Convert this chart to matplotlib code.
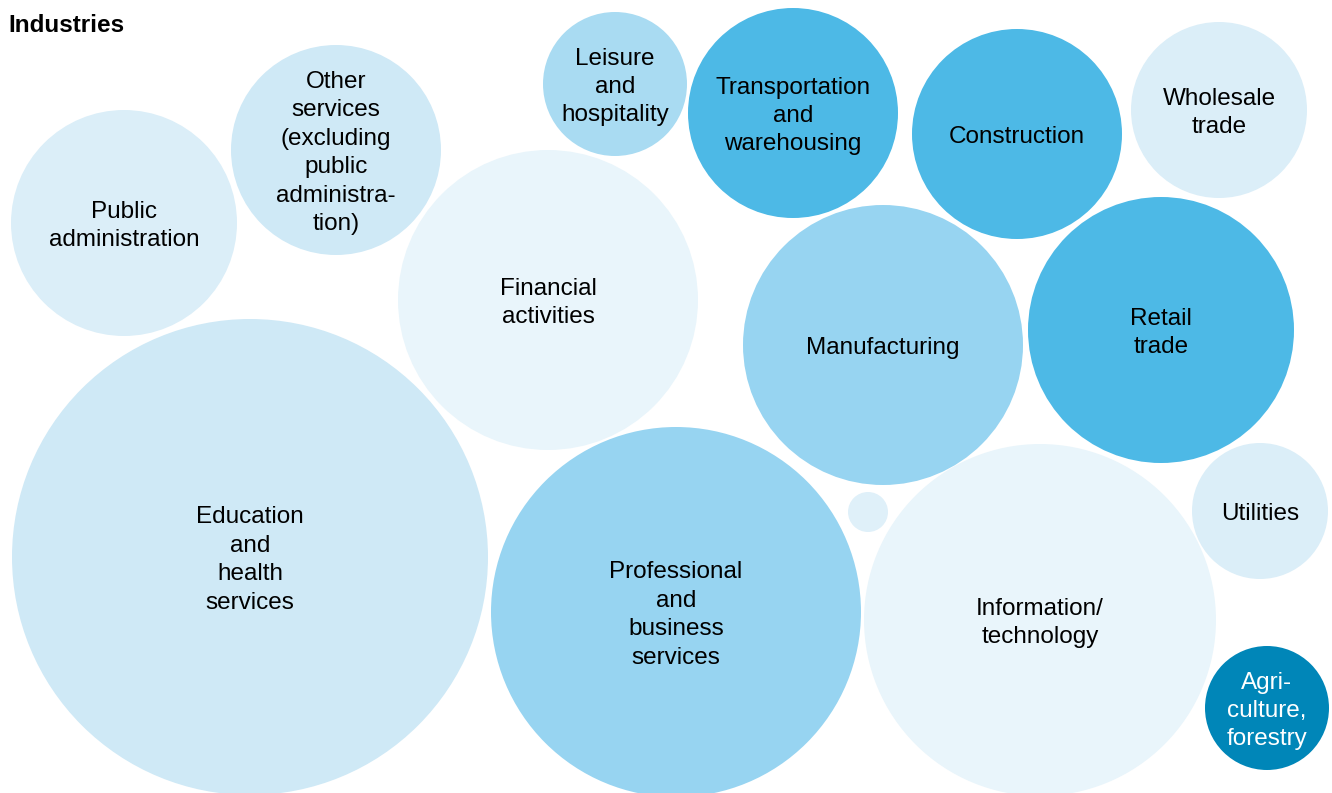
import matplotlib.pyplot as plt
from matplotlib.patches import Circle

plt.rcParams['font.family'] = ['Liberation Sans', 'DejaVu Sans']

# Datos: sectores y radio de cada burbuja (px)
industries = [
    "Public\nadministration",
    "Other\nservices\n(excluding\npublic\nadministra-\ntion)",
    "Leisure\nand\nhospitality",
    "Transportation\nand\nwarehousing",
    "Construction",
    "Wholesale\ntrade",
    "Financial\nactivities",
    "Manufacturing",
    "Retail\ntrade",
    "Education\nand\nhealth\nservices",
    "Professional\nand\nbusiness\nservices",
    "",
    "Information/\ntechnology",
    "Utilities",
    "Agri-\nculture,\nforestry",
]
radius = [113, 105, 72, 105, 105, 88, 150, 140, 133, 238, 185, 20, 176, 68, 62]

# Posiciones del empaquetado (px, origen arriba a la izquierda)
cx = [124, 336, 615, 793, 1017, 1219, 548, 883, 1161, 250, 676, 868, 1040, 1260, 1267]
cy = [223, 150, 84, 113, 134, 110, 300, 345, 330, 557, 612, 512, 620, 511, 708]

colors = ["#DBEEF8", "#CFE9F6", "#A9DBF2", "#4DB9E6", "#4DB9E6", "#DBEEF8",
          "#E9F5FB", "#97D4F1", "#4DB9E6", "#CFE9F6", "#97D4F1", "#DFF0F9",
          "#E9F5FB", "#DBEEF8", "#0086B8"]
text_colors = ["black"] * 14 + ["white"]

TEXT_DY = 3  # pequeño ajuste vertical de las etiquetas

fig = plt.figure(figsize=(13.32, 7.93), dpi=100)
ax = fig.add_axes([0, 0, 1, 1])
ax.set_xlim(0, 1332)
ax.set_ylim(793, 0)
ax.set_aspect('equal')
ax.axis('off')

for name, r, x, y, c, tc in zip(industries, radius, cx, cy, colors, text_colors):
    ax.add_patch(Circle((x, y), r, facecolor=c, edgecolor='none'))
    if name:
        ax.text(x, y + TEXT_DY, name, ha='center', va='center', fontsize=17.5,
                color=tc, linespacing=1.38)

ax.text(8, 26, "Industries", ha='left', va='center', fontsize=17.5,
        fontweight='bold', color='black')

fig.savefig("out.png", dpi=100)
